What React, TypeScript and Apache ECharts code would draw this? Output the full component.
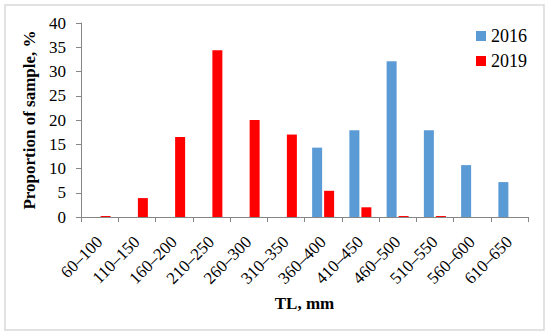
import React, { useEffect, useRef } from "react";
import * as echarts from "echarts";

const categories = ["60–100", "110–150", "160–200", "210–250", "260–300", "310–350", "360–400", "410–450", "460–500", "510–550", "560–600", "610–650"];
const series2016 = [0, 0, 0, 0, 0, 0, 14.3, 17.9, 32.1, 17.9, 10.7, 7.2];
const series2019 = [0.2, 3.9, 16.5, 34.4, 20.0, 17.0, 5.4, 2.0, 0.2, 0.2, 0, 0];
const yTicks = { min: 0, max: 40, interval: 5 };

const FONT = "'Times New Roman', 'Liberation Serif', serif";

export default function App() {
  const ref = useRef<HTMLDivElement>(null);
  useEffect(() => {
    if (!ref.current) return;
    const chart = echarts.init(ref.current, null, { renderer: "svg" });
    chart.setOption({
      animation: false,
      backgroundColor: "#ffffff",
      textStyle: { fontFamily: FONT, fontWeight: "normal" },
      graphic: [
        {
          type: "rect",
          shape: { x: 5, y: 5, width: 539, height: 325 },
          style: { fill: "none", stroke: "#d9d9d9", lineWidth: 1.5 },
          silent: true,
        },
      ],
      grid: { left: 81, right: 22, top: 23, bottom: 118 },
      legend: {
        orient: "vertical",
        left: 471,
        top: 22,
        itemWidth: 10,
        itemHeight: 10,
        itemGap: 7,
        icon: "rect",
        textStyle: { fontFamily: FONT, fontSize: 18, fontWeight: "normal", color: "#000" },
        data: ["2016", "2019"],
      },
      xAxis: {
        type: "category",
        data: categories,
        name: "TL, mm",
        nameLocation: "middle",
        nameGap: 78,
        nameTextStyle: { fontFamily: FONT, fontSize: 17, fontWeight: "bold", color: "#000" },
        axisLine: { lineStyle: { color: "#868686", width: 1 } },
        axisTick: { show: true, length: 5, lineStyle: { color: "#868686" } },
        axisLabel: { rotate: 45, fontFamily: FONT, fontSize: 17, fontWeight: "normal", color: "#000", margin: 22 },
      },
      yAxis: {
        type: "value",
        min: yTicks.min,
        max: yTicks.max,
        interval: yTicks.interval,
        name: "Proportion of sample, %",
        nameLocation: "middle",
        nameGap: 33,
        nameTextStyle: { fontFamily: FONT, fontSize: 17, fontWeight: "bold", color: "#000" },
        axisLine: { show: true, lineStyle: { color: "#868686", width: 1 } },
        axisTick: { show: true, length: 5, lineStyle: { color: "#868686" } },
        axisLabel: { fontFamily: FONT, fontSize: 17, fontWeight: "normal", color: "#000", margin: 15 },
        splitLine: { show: false },
      },
      series: [
        {
          name: "2016",
          type: "bar",
          data: series2016,
          barWidth: 10,
          barGap: "20%",
          itemStyle: { color: "#5b9bd5" },
        },
        {
          name: "2019",
          type: "bar",
          data: series2019,
          barWidth: 10,
          itemStyle: { color: "#ff0000" },
        },
      ],
    });
    return () => chart.dispose();
  }, []);
  return (
    <div
      ref={ref}
      style={{ position: "fixed", left: 0, top: 0, width: 550, height: 335 }}
    />
  );
}
